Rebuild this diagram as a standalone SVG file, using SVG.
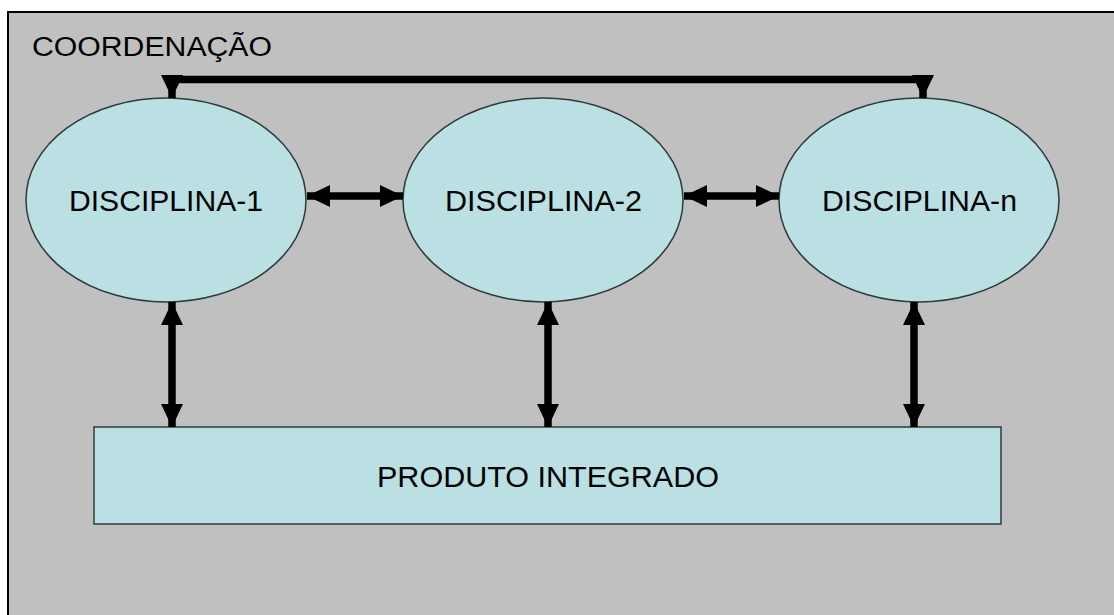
<svg xmlns="http://www.w3.org/2000/svg" width="1114" height="615" viewBox="0 0 1114 615">
  <style>
    .node { fill: #BAE0E3; stroke: #2E3A3C; stroke-width: 1.5; }
    .lbl { font-family: "Liberation Sans", Arial, sans-serif; fill: #000; }
    .con { stroke: #000; stroke-width: 7.5; fill: none; }
  </style>
  <defs>
    <marker id="ah" viewBox="0 0 23 22" refX="23" refY="11" markerWidth="23" markerHeight="22" markerUnits="userSpaceOnUse" orient="auto-start-reverse">
      <path d="M0,0 L23,11 L0,22 Z" fill="#000"/>
    </marker>
  </defs>
  <rect x="0" y="0" width="1114" height="615" fill="#FFFFFF"/>
  <rect x="8" y="12" width="1120" height="620" fill="#C0C0C0" stroke="#000" stroke-width="2"/>
  <text class="lbl" x="32" y="56" font-size="27" textLength="240" lengthAdjust="spacingAndGlyphs">COORDENAÇÃO</text>

  <g id="disciplina-1">
    <ellipse class="node" cx="166" cy="200" rx="140" ry="102"/>
    <text class="lbl" x="69" y="211" font-size="29.5" textLength="194" lengthAdjust="spacingAndGlyphs">DISCIPLINA-1</text>
  </g>
  <g id="disciplina-2">
    <ellipse class="node" cx="543" cy="200" rx="140" ry="102"/>
    <text class="lbl" x="445" y="211" font-size="29.5" textLength="197" lengthAdjust="spacingAndGlyphs">DISCIPLINA-2</text>
  </g>
  <g id="disciplina-n">
    <ellipse class="node" cx="919" cy="200" rx="140" ry="102"/>
    <text class="lbl" x="822" y="211" font-size="29.5" textLength="195" lengthAdjust="spacingAndGlyphs">DISCIPLINA-n</text>
  </g>
  <g id="produto-integrado">
    <rect class="node" x="94" y="427" width="907" height="97"/>
    <text class="lbl" x="377" y="487" font-size="30" textLength="342" lengthAdjust="spacingAndGlyphs">PRODUTO INTEGRADO</text>
  </g>

  <g id="connectors">
    <path class="con" d="M172,98 L172,79.5 L923,79.5 L923,98" marker-start="url(#ah)" marker-end="url(#ah)"/>
    <line class="con" x1="307" y1="196" x2="403" y2="196" marker-start="url(#ah)" marker-end="url(#ah)"/>
    <line class="con" x1="684" y1="196" x2="779" y2="196" marker-start="url(#ah)" marker-end="url(#ah)"/>
    <line class="con" x1="172" y1="302" x2="172" y2="427" marker-start="url(#ah)" marker-end="url(#ah)"/>
    <line class="con" x1="548" y1="302" x2="548" y2="427" marker-start="url(#ah)" marker-end="url(#ah)"/>
    <line class="con" x1="914" y1="302" x2="914" y2="427" marker-start="url(#ah)" marker-end="url(#ah)"/>
  </g>
</svg>
